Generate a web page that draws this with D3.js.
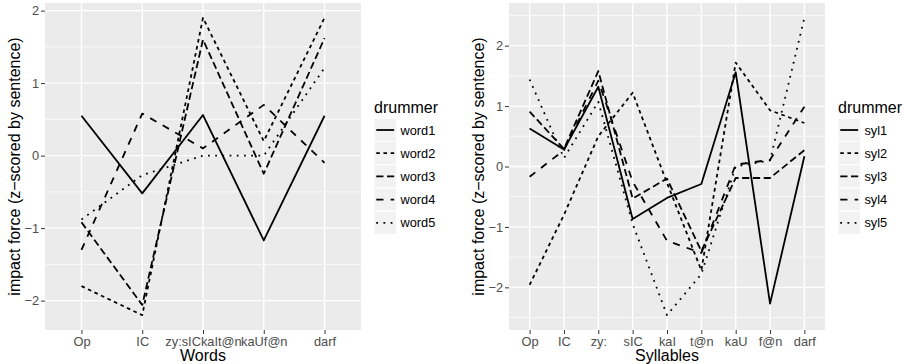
<!DOCTYPE html>
<html>
<head>
<meta charset="utf-8">
<script src="https://cdn.jsdelivr.net/npm/d3@7"></script>
<style>
  body { margin: 0; background: #ffffff; }
  text { font-family: "Liberation Sans", Arial, Helvetica, sans-serif; }
</style>
</head>
<body>
<svg id="chart" width="904" height="364"></svg>
<script>
// ---- data: words ----
const wordCategories = ["Op", "IC", "zy:sICkaIt@n", "kaUf@n", "darf"];
const wordNames = ["word1", "word2", "word3", "word4", "word5"];
const word1 = [0.55, -0.52, 0.56, -1.17, 0.55];
const word2 = [-1.80, -2.20, 1.90, 0.20, 1.90];
const word3 = [-0.92, -2.06, 1.60, -0.25, 1.62];
const word4 = [-1.30, 0.58, 0.10, 0.70, -0.10];
const word5 = [-0.88, -0.27, 0.00, 0.00, 1.21];

// ---- data: syllables ----
const syllableCategories = ["Op", "IC", "zy:", "sIC", "kaI", "t@n", "kaU", "f@n", "darf"];
const syllableNames = ["syl1", "syl2", "syl3", "syl4", "syl5"];
const syl1 = [0.63, 0.28, 1.32, -0.87, -0.52, -0.29, 1.56, -2.27, 0.17];
const syl2 = [-1.96, -0.80, 0.50, 1.22, -0.27, -1.72, 1.72, 0.93, 0.72];
const syl3 = [0.91, 0.29, 1.58, -0.53, -0.20, -1.40, -0.19, -0.19, 0.27];
const syl4 = [-0.17, 0.27, 1.42, -0.25, -1.23, -1.43, 0.03, 0.11, 0.99];
const syl5 = [1.44, 0.14, 1.07, -0.95, -2.46, -1.78, 0.00, 0.10, 2.46];

const yTicks = [-2, -1, 0, 1, 2];
const yTitle = "impact force (z\u2212scored by sentence)";
const legendTitle = "drummer";

// ---- styling ----
const LW = 1.8;
const dashPatterns = [null, [2, 2], [4, 2], [4, 4], [1, 3]]
  .map(p => p ? p.map(v => v * LW).join(",") : null);
const TICK_FONT = 12.8;
const TITLE_FONT = 16;

const svg = d3.select("#chart");

function drawPanel(cfg) {
  const { left, right, top, bottom } = cfg.box;
  const all = cfg.series.flat();
  const lo = d3.min(all), hi = d3.max(all), pad = (hi - lo) * 0.05;
  const y = d3.scaleLinear().domain([lo - pad, hi + pad]).range([bottom, top]);
  const x = d3.scalePoint().domain(cfg.categories).range([left, right]).padding(0.6);

  const g = svg.append("g");

  // panel background
  g.append("rect")
    .attr("x", left).attr("y", top)
    .attr("width", right - left).attr("height", bottom - top)
    .attr("fill", "#EBEBEB");

  // minor grid between major breaks
  const [d0, d1] = y.domain();
  const minor = d3.range(-10, 10).map(v => v + 0.5).filter(v => v >= d0 && v <= d1);
  g.selectAll(".minor").data(minor).join("line")
    .attr("x1", left).attr("x2", right)
    .attr("y1", d => y(d)).attr("y2", d => y(d))
    .attr("stroke", "#ffffff").attr("stroke-width", 0.7);

  // major grid
  g.selectAll(".hmajor").data(yTicks).join("line")
    .attr("x1", left).attr("x2", right)
    .attr("y1", d => y(d)).attr("y2", d => y(d))
    .attr("stroke", "#ffffff").attr("stroke-width", 1.4);
  g.selectAll(".vmajor").data(cfg.categories).join("line")
    .attr("x1", d => x(d)).attr("x2", d => x(d))
    .attr("y1", top).attr("y2", bottom)
    .attr("stroke", "#ffffff").attr("stroke-width", 1.4);

  // series lines
  const line = d3.line()
    .x((d, i) => x(cfg.categories[i]))
    .y(d => y(d));
  cfg.series.forEach((vals, i) => {
    g.append("path")
      .attr("d", line(vals))
      .attr("fill", "none")
      .attr("stroke", "#000000")
      .attr("stroke-width", LW)
      .attr("stroke-linejoin", "round")
      .attr("stroke-linecap", "butt")
      .attr("stroke-dasharray", dashPatterns[i]);
  });

  // axes
  const yAxis = g.append("g")
    .attr("transform", `translate(${left},0)`)
    .call(d3.axisLeft(y).tickValues(yTicks).tickSize(4).tickPadding(2).tickFormat(d3.format("d")));
  const xAxis = g.append("g")
    .attr("transform", `translate(0,${bottom})`)
    .call(d3.axisBottom(x).tickSize(4).tickPadding(3));
  [yAxis, xAxis].forEach(a => {
    a.select(".domain").remove();
    a.selectAll(".tick line").attr("stroke", "#333333").attr("stroke-width", 1);
    a.selectAll(".tick text")
      .attr("fill", "#4D4D4D")
      .style("font-size", TICK_FONT + "px")
      .style("font-family", '"Liberation Sans", Arial, Helvetica, sans-serif');
  });

  // axis titles
  g.append("text")
    .attr("x", (left + right) / 2).attr("y", 360.5)
    .attr("text-anchor", "middle")
    .style("font-size", TITLE_FONT + "px")
    .text(cfg.xTitle);
  g.append("text")
    .attr("transform", `translate(${cfg.yTitleX},${(top + bottom) / 2}) rotate(-90)`)
    .attr("text-anchor", "middle")
    .style("font-size", TITLE_FONT + "px")
    .text(yTitle);

  // legend
  const lx = cfg.legendX, ly = 118.4, kw = 22.4, kh = 23.2;
  g.append("text")
    .attr("x", lx).attr("y", 113.3)
    .style("font-size", TITLE_FONT + "px")
    .text(legendTitle);
  cfg.names.forEach((name, i) => {
    const ky = ly + i * kh;
    g.append("rect")
      .attr("x", lx).attr("y", ky).attr("width", kw).attr("height", kh)
      .attr("fill", "#F2F2F2").attr("stroke", "#ffffff").attr("stroke-width", 1);
    g.append("line")
      .attr("x1", lx + kw * 0.1).attr("x2", lx + kw * 0.9)
      .attr("y1", ky + kh / 2).attr("y2", ky + kh / 2)
      .attr("stroke", "#000000").attr("stroke-width", LW)
      .attr("stroke-dasharray", dashPatterns[i]);
    g.append("text")
      .attr("x", lx + kw + 4).attr("y", ky + kh / 2 + 4.6)
      .attr("fill", "#000000")
      .style("font-size", TICK_FONT + "px")
      .text(name);
  });
}

drawPanel({
  box: { left: 45, right: 361, top: 3, bottom: 330 },
  categories: wordCategories,
  names: wordNames,
  series: [word1, word2, word3, word4, word5],
  xTitle: "Words",
  yTitleX: 20,
  legendX: 374
});

drawPanel({
  box: { left: 509, right: 825, top: 3, bottom: 330 },
  categories: syllableCategories,
  names: syllableNames,
  series: [syl1, syl2, syl3, syl4, syl5],
  xTitle: "Syllables",
  yTitleX: 484,
  legendX: 838
});
</script>
</body>
</html>
